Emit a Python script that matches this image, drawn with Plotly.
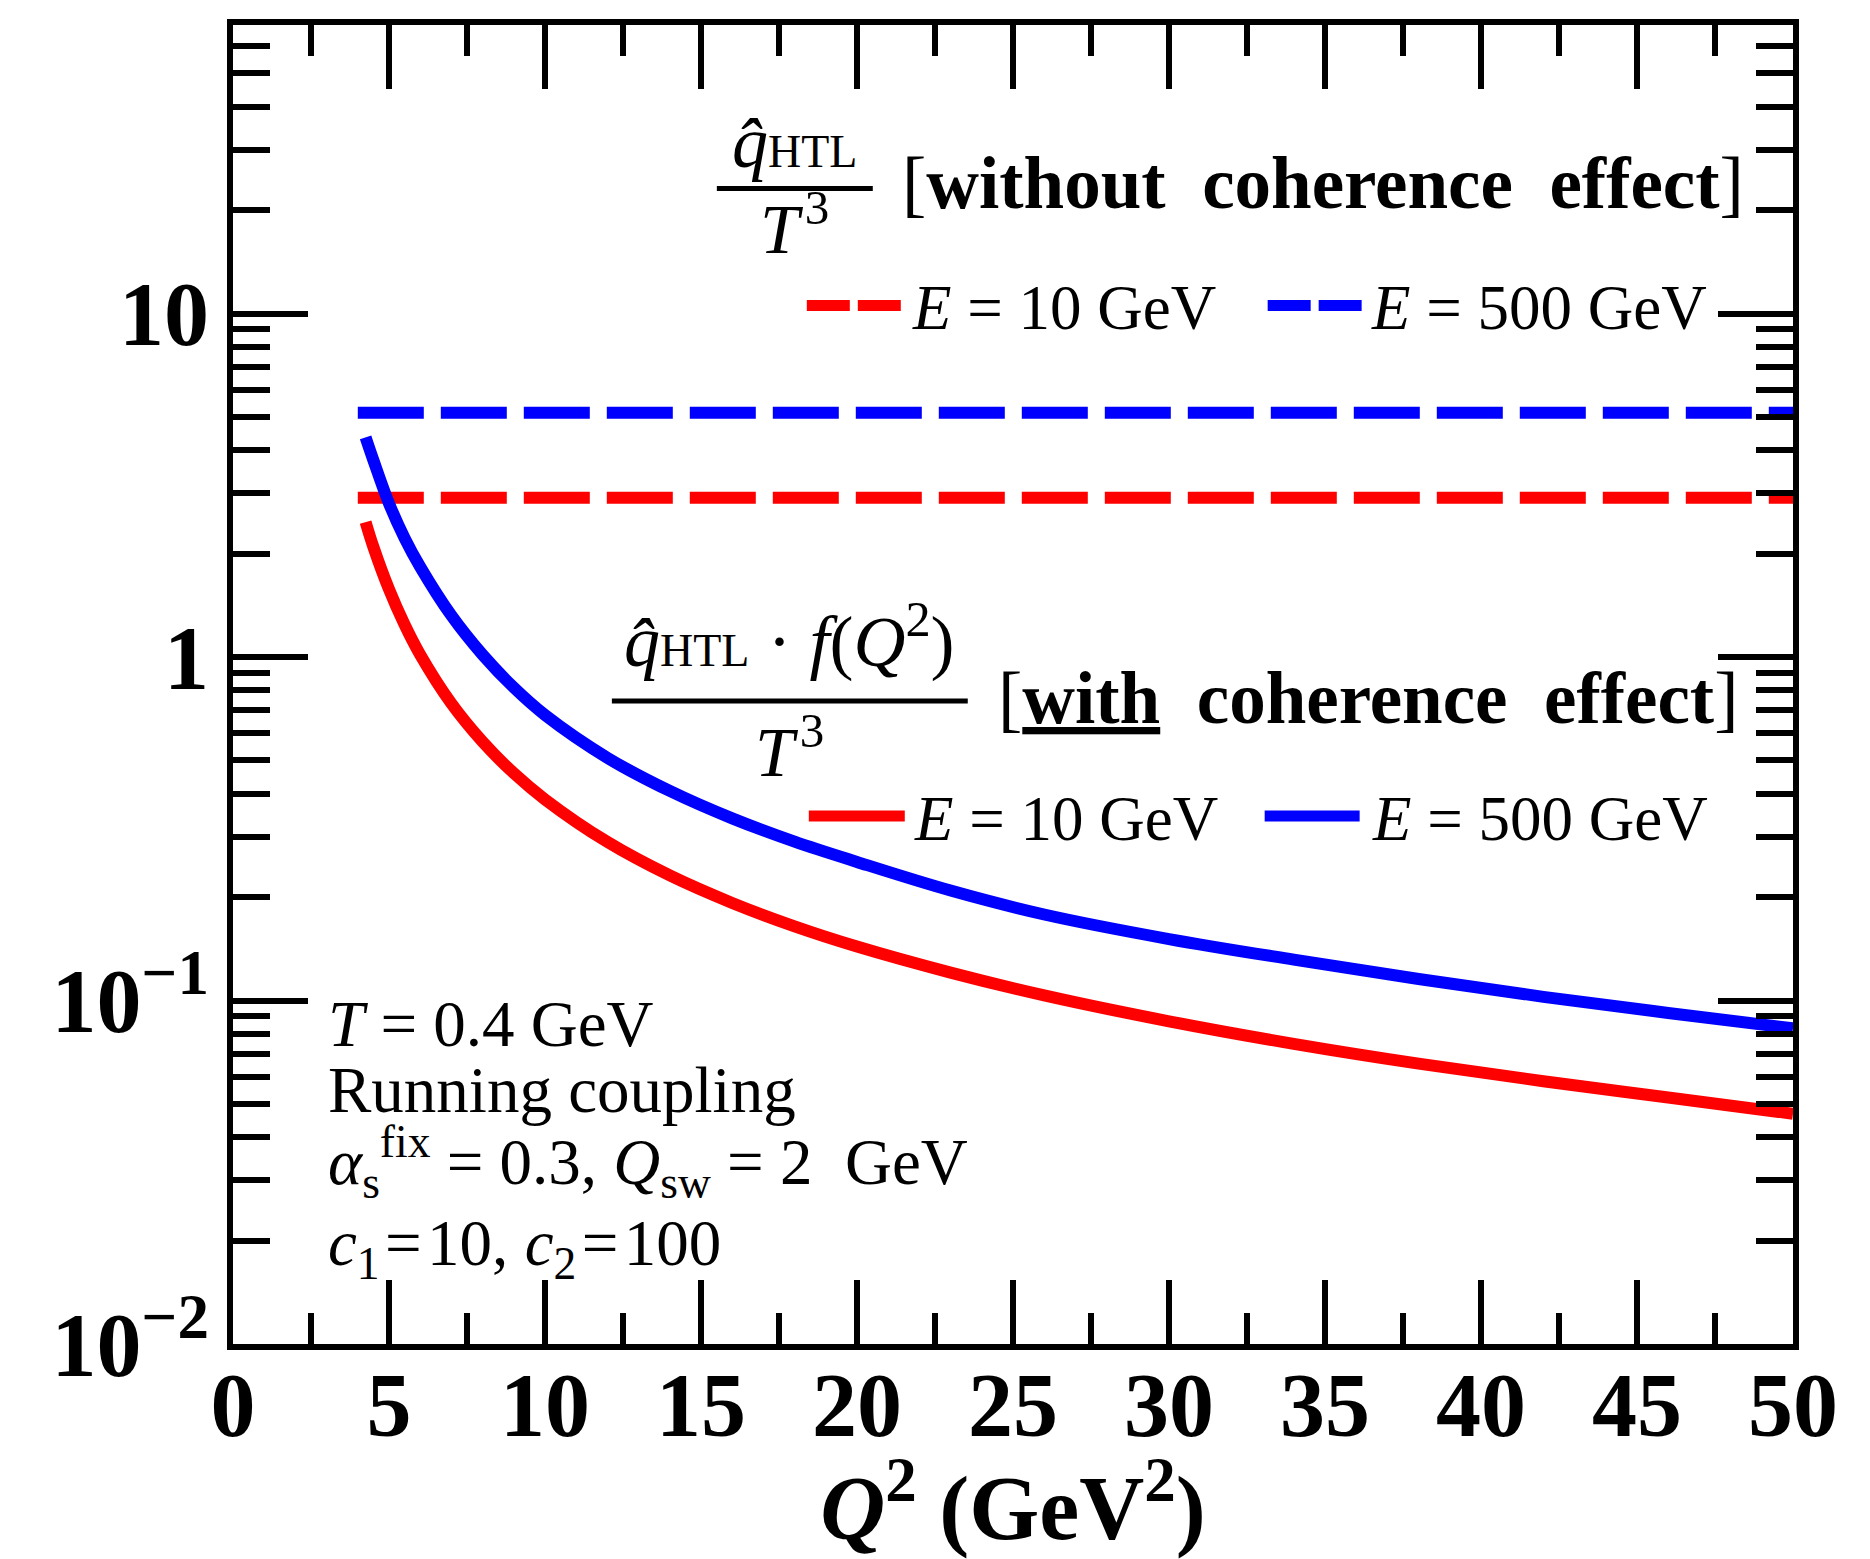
import plotly.graph_objects as go

# ---------------- data ----------------
q2_dashed = [4.0, 50.0]
qhat_nocoh_e10 = [2.91, 2.91]
qhat_nocoh_e500 = [5.14, 5.14]

q2_e500 = [4.25, 4.5, 5, 5.5, 6, 7, 8, 9, 10, 12, 14, 16, 18, 20, 23, 26, 30, 34, 38, 42, 46, 50]
qhat_coh_e500 = [4.36, 3.74, 2.80, 2.22, 1.83, 1.32, 1.015, 0.815, 0.678, 0.509, 0.4075, 0.339,
                 0.290, 0.2532, 0.209, 0.178, 0.151, 0.1315, 0.1155, 0.1025, 0.092, 0.0830]

q2_e10 = [4.25, 4.5, 5, 5.5, 6, 7, 8, 9, 10, 12, 14, 16, 18, 20, 23, 26, 30, 34, 38, 42, 46, 50]
qhat_coh_e10 = [2.47, 2.09, 1.574, 1.242, 1.015, 0.732, 0.5665, 0.459, 0.385, 0.2894, 0.2312, 0.1923,
                0.1644, 0.1436, 0.1206, 0.1035, 0.0870, 0.0748, 0.0655, 0.0582, 0.0522, 0.0468]

y_tickvals = [0.01, 0.1, 1, 10]
y_ticktext = ["10<sup>\u22122</sup>", "10<sup>\u22121</sup>", "1", "10"]
x_tickvals = [0, 5, 10, 15, 20, 25, 30, 35, 40, 45, 50]

RED = "#ff0000"
BLUE = "#0000ff"
SERIF = "Liberation Serif"

# the page body has an 8px margin; the figure is sized so the plot box lands
# where the reference has it
W, H = 1862, 1551
ML, MT, MR, MB = 225, 11, 76.5, 209.5
OFF = 8
PL, PR = OFF + ML, OFF + W - MR
PT, PB = OFF + MT, OFF + H - MB


def px(x):
    return (x - PL) / (PR - PL)


def py(y):
    return (PB - y) / (PB - PT)


fig = go.Figure()

fig.add_trace(go.Scatter(x=q2_dashed, y=qhat_nocoh_e500, mode="lines",
                         line=dict(color=BLUE, width=12, dash="66px,17px")))
fig.add_trace(go.Scatter(x=q2_dashed, y=qhat_nocoh_e10, mode="lines",
                         line=dict(color=RED, width=12, dash="66px,17px")))
fig.add_trace(go.Scatter(x=q2_e500, y=qhat_coh_e500, mode="lines",
                         line=dict(color=BLUE, width=12, shape="spline")))
fig.add_trace(go.Scatter(x=q2_e10, y=qhat_coh_e10, mode="lines",
                         line=dict(color=RED, width=12, shape="spline")))

minor_y = [m * 10 ** e for e in (-2, -1, 0, 1) for m in range(2, 10) if m * 10 ** e < 70]

fig.update_layout(
    width=W, height=H,
    margin=dict(l=ML, r=MR, t=MT, b=MB),
    paper_bgcolor="white", plot_bgcolor="white",
    showlegend=False,
    font=dict(family=SERIF, color="black"),
    xaxis=dict(
        range=[0, 50], tickmode="array", tickvals=x_tickvals,
        ticks="inside", ticklen=64, tickwidth=6, tickcolor="black",
        showline=True, linewidth=6, linecolor="black", mirror="ticks",
        showgrid=False, zeroline=False,
        tickfont=dict(family=SERIF, size=90, weight="bold"),
        ticklabelstandoff=-22,
        minor=dict(ticks="inside", ticklen=31, tickwidth=6, tickcolor="black",
                   dtick=2.5, tick0=0, showgrid=False),
        title=dict(text="<i>Q</i><sup>2</sup> (GeV<sup>2</sup>)",
                   font=dict(family=SERIF, size=90, weight="bold"), standoff=30),
    ),
    yaxis=dict(
        type="log", range=[-2, 1.84], tickmode="array",
        tickvals=y_tickvals, ticktext=y_ticktext,
        ticks="inside", ticklen=75, tickwidth=6, tickcolor="black",
        showline=True, linewidth=6, linecolor="black", mirror="ticks",
        showgrid=False, zeroline=False,
        tickfont=dict(family=SERIF, size=90, weight="bold"),
        minor=dict(ticks="inside", ticklen=37, tickwidth=6, tickcolor="black",
                   tickmode="array", tickvals=minor_y, showgrid=False),
    ),
)

annotations = []
shapes = []


def text(x, y, s, size, xanchor="left", yanchor="middle"):
    annotations.append(dict(x=px(x), y=py(y), xref="paper", yref="paper",
                            text=s, showarrow=False, xanchor=xanchor, yanchor=yanchor,
                            font=dict(family=SERIF, size=size, color="black")))


def hline(x0, x1, y, color="black", width=5, dash="solid"):
    shapes.append(dict(type="line", xref="paper", yref="paper",
                       x0=px(x0), x1=px(x1), y0=py(y), y1=py(y),
                       line=dict(color=color, width=width, dash=dash)))


QHAT = "<i>q\u0302</i><span style='font-size:46px'>HTL</span>"
T3 = "<i>T</i>\u200a<sup>3</sup>"

# ---- upper block: without coherence effect ----
hline(717, 873, 184)
text(795, 180, QHAT, 72, xanchor="center", yanchor="bottom")
text(795, 173, T3, 70, xanchor="center", yanchor="top")
text(900, 179, "[<b>without  coherence  effect</b>]", 73)

hline(807, 901, 302, RED, 11, "43px,8px")
text(910, 304, "<i>E</i> = 10 GeV", 63)
hline(1268, 1362, 302, BLUE, 11, "43px,8px")
text(1369, 304, "<i>E</i> = 500 GeV", 63)

# ---- middle block: with coherence effect ----
hline(612, 968, 701)
text(790, 684, QHAT + " \u00b7 <i>f</i>(<i>Q</i><sup>2</sup>)", 72, xanchor="center", yanchor="bottom")
text(790, 701, T3, 70, xanchor="center", yanchor="top")
text(996, 698, "[<b><u>with</u>  coherence  effect</b>]", 73)

hline(809, 905, 817, RED, 11)
text(912, 820, "<i>E</i> = 10 GeV", 63)
hline(1265, 1360, 817, BLUE, 11)
text(1370, 820, "<i>E</i> = 500 GeV", 63)

# ---- parameter box ----
text(326, 1027, "<i>T</i> = 0.4 GeV", 65)
text(326, 1093, "Running coupling", 65)
text(326, 1166, "<i>\u03b1</i><sub>s</sub><sup>fix</sup> = 0.3, <i>Q</i><sub>sw</sub> = 2  GeV", 65)
text(326, 1253, "<i>c</i><sub>1</sub>\u200a=\u200a10, <i>c</i><sub>2</sub>\u200a=\u200a100", 65)

fig.update_layout(annotations=annotations, shapes=shapes)

fig.write_html("out.html")
